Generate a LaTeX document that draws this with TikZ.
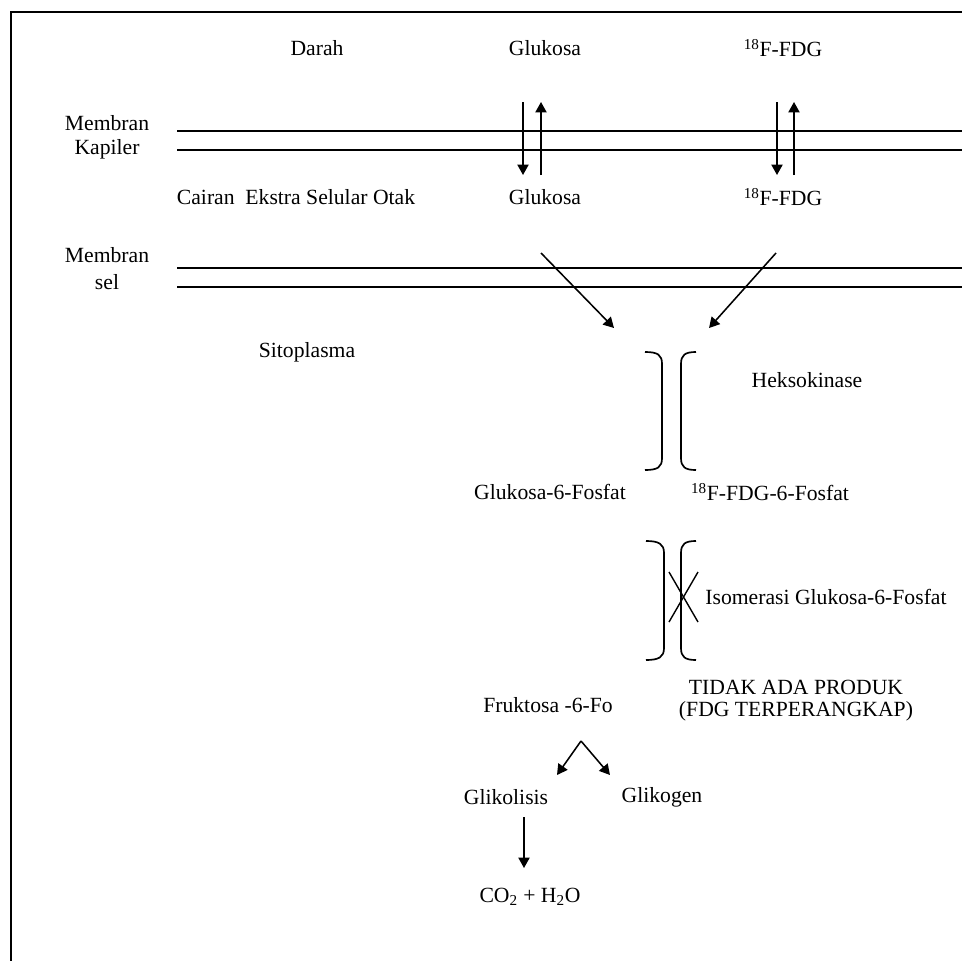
\documentclass[tikz,border=0pt]{standalone}
\usepackage{fontspec}
\setmainfont{Liberation Serif}
\usetikzlibrary{arrows.meta}

\begin{document}
\begin{tikzpicture}[x=0.025cm,y=-0.025cm,
	txt/.style={font=\fontsize{15.4}{18}\selectfont, inner sep=0pt},
	membran/.style={line width=1pt},
	pfeil/.style={line width=1.1pt,-{Triangle[length=2.6mm,width=2.8mm]}},
	klammer/.style={line width=1.2pt}]
	\useasboundingbox (0,0) rectangle (962,961);
	% Rahmen
	\draw[line width=1.4pt] (11,961) -- (11,12) -- (962,12);
	% Darah
	\node[txt] (darah) at (317,48) {Darah};
	\node[txt] (glukA) at (545,48) {Glukosa};
	\node[txt] (fdgA) at (783,48) {\textsuperscript{18}F-FDG};
	% Membran kapiler
	\node[txt] (mkap1) at (107,123) {Membran};
	\node[txt] (mkap2) at (107,149) {Kapiler};
	\draw[membran] (177,131) -- (962,131);
	\draw[membran] (177,150) -- (962,150);
	% Cairan ekstra selular
	\node[txt] (cairan) at (296,197) {Cairan~ Ekstra Selular Otak};
	\node[txt] (glukB) at (545,197) {Glukosa};
	\node[txt] (fdgB) at (783,197) {\textsuperscript{18}F-FDG};
	% Transport
	\coordinate (g1) at (523,102); \coordinate (g2) at (523,175);
	\coordinate (g3) at (541,175); \coordinate (g4) at (541,102);
	\coordinate (f1) at (777,102); \coordinate (f2) at (777,175);
	\coordinate (f3) at (794,175); \coordinate (f4) at (794,102);
	\draw[pfeil] (g1) -- (g2);
	\draw[pfeil] (g3) -- (g4);
	\draw[pfeil] (f1) -- (f2);
	\draw[pfeil] (f3) -- (f4);
	% Membran sel
	\node[txt] (msel1) at (107,255) {Membran};
	\node[txt] (msel2) at (107,282) {sel};
	\draw[membran] (177,268) -- (962,268);
	\draw[membran] (177,287) -- (962,287);
	\coordinate (d1) at (541,253); \coordinate (d2) at (614,328);
	\coordinate (d3) at (776,253); \coordinate (d4) at (709,328);
	\draw[pfeil] (d1) -- (d2);
	\draw[pfeil] (d3) -- (d4);
	% Sitoplasma
	\node[txt] (sito) at (307,352) {Sitoplasma};
	\draw[klammer] (645,352) .. controls (658,352) and (662,355) .. (662,364) -- (662,458) .. controls (662,467) and (658,470) .. (645,470);
	\draw[klammer] (696,352) .. controls (685,352) and (681,355) .. (681,364) -- (681,458) .. controls (681,467) and (685,470) .. (696,470);
	\node[txt] (heks) at (807,380) {Heksokinase};
	\node[txt] (g6p) at (550,492) {Glukosa-6-Fosfat};
	\node[txt] (f6p) at (770,492) {\textsuperscript{18}F-FDG-6-Fosfat};
	% Isomerasi
	\draw[klammer] (646,541) .. controls (659,541) and (664,544) .. (664,553) -- (664,648) .. controls (664,657) and (659,660) .. (646,660);
	\draw[klammer] (696,541) .. controls (685,541) and (681,544) .. (681,553) -- (681,648) .. controls (681,657) and (685,660) .. (696,660);
	\draw[line width=1pt] (669,572) -- (698,622);
	\draw[line width=1pt] (698,572) -- (669,622);
	\node[txt] (iso) at (826,597) {Isomerasi Glukosa-6-Fosfat};
	\node[txt] (tidak) at (796,687) {TIDAK ADA PRODUK};
	\node[txt] (fdgt) at (796,711) {(FDG TERPERANGKAP)};
	% Fruktosa
	\node[txt] (fruk) at (548,705) {Fruktosa -6-Fo};
	\coordinate (k0) at (581,741);
	\coordinate (k1) at (557,775); \coordinate (k2) at (610,775);
	\draw[pfeil] (k0) -- (k1);
	\draw[pfeil] (k0) -- (k2);
	\node[txt] (glikol) at (506,797) {Glikolisis};
	\node[txt] (glikog) at (662,797) {Glikogen};
	\coordinate (c1) at (524,817); \coordinate (c2) at (524,868);
	\draw[pfeil] (c1) -- (c2);
	\node[txt] (co2) at (530,897) {CO\textsubscript{2} + H\textsubscript{2}O};
\end{tikzpicture}
\end{document}
